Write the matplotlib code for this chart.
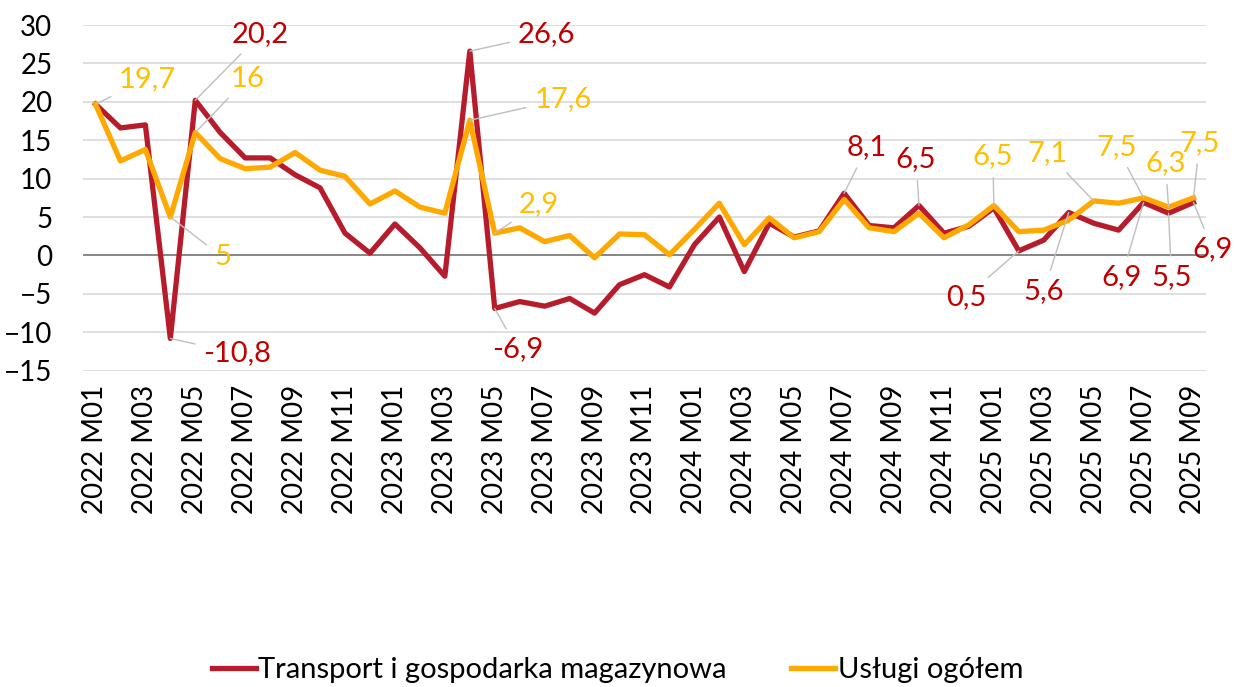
import numpy as np
import matplotlib
matplotlib.use("Agg")
import matplotlib.pyplot as plt

plt.rcParams['font.family'] = ['Lato', 'DejaVu Sans']

months = [f"{y} M{m:02d}" for y in (2022, 2023, 2024, 2025) for m in range(1, 13)][:45]

transport = [19.7, 16.6, 17.0, -10.8, 20.2, 16.0, 12.7, 12.7, 10.5, 8.8, 2.9, 0.3,
             4.1, 1.0, -2.7, 26.6, -6.9, -6.0, -6.6, -5.6, -7.5, -3.8, -2.5, -4.1,
             1.4, 5.0, -2.1, 4.2, 2.4, 3.2, 8.1, 3.9, 3.6, 6.5, 2.9, 3.8,
             6.2, 0.6, 2.0, 5.6, 4.2, 3.3, 6.9, 5.5, 6.9]
uslugi = [19.7, 12.3, 13.8, 5.0, 16.0, 12.6, 11.3, 11.5, 13.4, 11.1, 10.3, 6.7,
          8.4, 6.3, 5.5, 17.6, 2.9, 3.6, 1.8, 2.6, -0.3, 2.8, 2.7, 0.1,
          3.4, 6.8, 1.4, 4.9, 2.3, 3.1, 7.3, 3.6, 3.1, 5.5, 2.3, 4.0,
          6.5, 3.1, 3.3, 4.6, 7.1, 6.8, 7.5, 6.3, 7.5]

# (index, label text, offset in pixels)
transport_labels = [(3, "-10,8", (67, -15)), (4, "20,2", (65, 66)), (15, "26,6", (77, 17)),
                    (16, "-6,9", (23, -41)), (30, "8,1", (23, 46)), (33, "6,5", (-3, 46)),
                    (37, "0,5", (-53, -46)), (39, "5,6", (-25, -79)), (42, "6,9", (-22, -75)),
                    (43, "5,5", (3, -64)), (44, "6,9", (19, -47))]
uslugi_labels = [(0, "19,7", (52, 25)), (3, "5", (52, -40)), (4, "16", (52, 54)),
                 (15, "17,6", (93, 21)), (16, "2,9", (44, 29)), (36, "6,5", (-1, 49)),
                 (40, "7,1", (-46, 48)), (42, "7,5", (-27, 51)), (43, "6,3", (-3, 44)),
                 (44, "7,5", (6, 55))]

RED = "#B71C2C"
RED_TXT = "#C00000"
YEL = "#FFA800"
YEL_TXT = "#FFC000"

fig = plt.figure(figsize=(12.35, 6.87), dpi=100)
ax = fig.add_axes([0.0672, 0.4604, 0.9093, 0.5032])

x = np.arange(len(months))
ax.plot(x, transport, color=RED, lw=3.8, label="Transport i gospodarka magazynowa", zorder=3)
ax.plot(x, uslugi, color=YEL, lw=3.8, label="Usługi ogółem", zorder=4)

ax.set_xlim(-0.5, len(months) - 0.5)
ax.set_ylim(-15, 30)
ax.set_yticks(np.arange(-15, 31, 5))
ax.grid(axis='y', color='#d9d9d9', lw=1.2)
ax.axhline(0, color='#808080', lw=1.3, zorder=2)
ax.set_axisbelow(True)
for s in ax.spines.values():
    s.set_visible(False)
ax.tick_params(axis='both', length=0, labelsize=20)
ax.tick_params(axis='y', pad=22)
ax.set_xticks(x[::2])
ax.set_xticklabels(months[::2], rotation=90)
ax.tick_params(axis='x', pad=10)

def add_labels(series, labels, color):
    for i, txt, off in labels:
        ax.annotate(txt, xy=(x[i], series[i]), xytext=off, textcoords='offset pixels',
                    ha='center', va='center', fontsize=21, color=color, zorder=6,
                    arrowprops=dict(arrowstyle='-', color='#bfbfbf', lw=1,
                                    shrinkA=4, shrinkB=0))

add_labels(transport, transport_labels, RED_TXT)
add_labels(uslugi, uslugi_labels, YEL_TXT)

fig.legend(loc='center', bbox_to_anchor=(0.5, 0.025), ncol=2, frameon=False,
           fontsize=21, handlelength=1.5, handletextpad=0.1, columnspacing=2.2)

fig.savefig("out.png", dpi=100)
